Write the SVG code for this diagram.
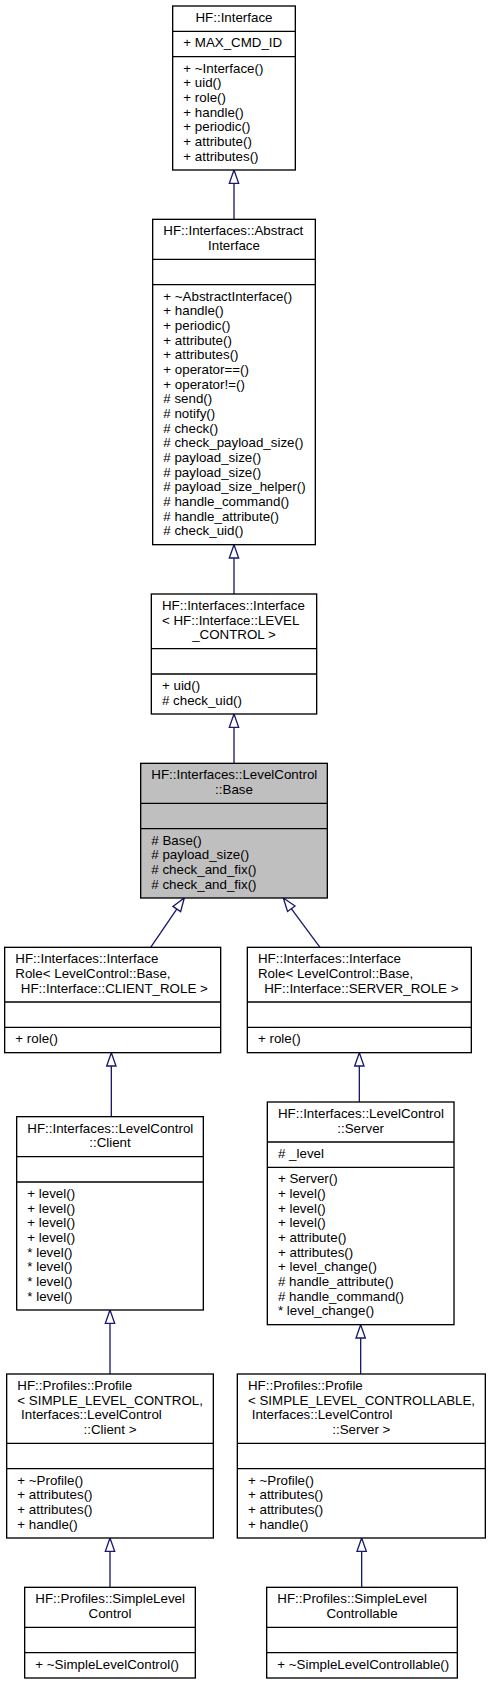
<svg xmlns="http://www.w3.org/2000/svg" width="491" height="1684" viewBox="0 0 491 1684">
<style>
.bg{fill:#ffffff}
.box{fill:#ffffff;stroke:#000000;stroke-width:1}
.cur{fill:#bfbfbf;stroke:#000000;stroke-width:1}
.sep{stroke:#000000;stroke-width:1}
text{font-family:"Liberation Sans",Arial,Helvetica,sans-serif;font-size:10px;fill:#000000}
.m{text-anchor:middle}
.e line{stroke:#191970;stroke-width:1}
.e polygon{fill:none;stroke:#191970;stroke-width:1}
</style>
<rect class="bg" x="0" y="0" width="491" height="1684"/>
<g transform="scale(1.33333)">
<g id="connectors" class="e">
<line x1="175.5" y1="137.5" x2="175.5" y2="164.5"/><polygon points="175.5,127.5 172,137.5 179,137.5"/>
<line x1="175.5" y1="418.5" x2="175.5" y2="445.5"/><polygon points="175.5,408.5 172,418.5 179,418.5"/>
<line x1="175.5" y1="545.5" x2="175.5" y2="572.5"/><polygon points="175.5,535.5 172,545.5 179,545.5"/>
<line x1="132.57" y1="681.76" x2="113" y2="710.5"/><polygon points="138.2,673.5 135.46,683.73 129.68,679.79"/>
<line x1="218.47" y1="681.53" x2="240" y2="710.5"/><polygon points="212.5,673.5 221.28,679.44 215.66,683.62"/>
<line x1="83.5" y1="799.5" x2="83.5" y2="837.5"/><polygon points="83.5,789.5 80,799.5 87,799.5"/>
<line x1="269.5" y1="799.5" x2="269.5" y2="826.5"/><polygon points="269.5,789.5 266,799.5 273,799.5"/>
<line x1="82.5" y1="992.5" x2="82.5" y2="1030.5"/><polygon points="82.5,982.5 79,992.5 86,992.5"/>
<line x1="270.5" y1="1003.5" x2="270.5" y2="1030.5"/><polygon points="270.5,993.5 267,1003.5 274,1003.5"/>
<line x1="82.5" y1="1163.5" x2="82.5" y2="1190.5"/><polygon points="82.5,1153.5 79,1163.5 86,1163.5"/>
<line x1="271.25" y1="1163.5" x2="271.25" y2="1190.5"/><polygon points="271.25,1153.5 267.75,1163.5 274.75,1163.5"/>
</g>

<g id="node1">
<rect class="box" x="129.5" y="4.5" width="92" height="123"/>
<line class="sep" x1="129.5" y1="23.5" x2="221.5" y2="23.5"/>
<line class="sep" x1="129.5" y1="42.5" x2="221.5" y2="42.5"/>
<text class="m" x="175.5" y="16.5">HF::Interface</text>
<text x="137.5" y="35.5">+ MAX_CMD_ID</text>
<text x="137.5" y="54.5">+ ~Interface()</text>
<text x="137.5" y="65.5">+ uid()</text>
<text x="137.5" y="76.5">+ role()</text>
<text x="137.5" y="87.5">+ handle()</text>
<text x="137.5" y="98.5">+ periodic()</text>
<text x="137.5" y="109.5">+ attribute()</text>
<text x="137.5" y="120.5">+ attributes()</text>
</g>

<g id="node2">
<rect class="box" x="114.5" y="164.5" width="122" height="244"/>
<line class="sep" x1="114.5" y1="194.5" x2="236.5" y2="194.5"/>
<line class="sep" x1="114.5" y1="213.5" x2="236.5" y2="213.5"/>
<text x="122.5" y="176.5">HF::Interfaces::Abstract</text>
<text class="m" x="175.5" y="187.5">Interface</text>
<text x="122.5" y="225.5">+ ~AbstractInterface()</text>
<text x="122.5" y="236.5">+ handle()</text>
<text x="122.5" y="247.5">+ periodic()</text>
<text x="122.5" y="258.5">+ attribute()</text>
<text x="122.5" y="269.5">+ attributes()</text>
<text x="122.5" y="280.5">+ operator==()</text>
<text x="122.5" y="291.5">+ operator!=()</text>
<text x="122.5" y="302.5"># send()</text>
<text x="122.5" y="313.5"># notify()</text>
<text x="122.5" y="324.5"># check()</text>
<text x="122.5" y="335.5"># check_payload_size()</text>
<text x="122.5" y="346.5"># payload_size()</text>
<text x="122.5" y="357.5"># payload_size()</text>
<text x="122.5" y="368.5"># payload_size_helper()</text>
<text x="122.5" y="379.5"># handle_command()</text>
<text x="122.5" y="390.5"># handle_attribute()</text>
<text x="122.5" y="401.5"># check_uid()</text>
</g>

<g id="node3">
<rect class="box" x="113.5" y="445.5" width="124" height="90"/>
<line class="sep" x1="113.5" y1="486.5" x2="237.5" y2="486.5"/>
<line class="sep" x1="113.5" y1="505.5" x2="237.5" y2="505.5"/>
<text x="121.5" y="457.5">HF::Interfaces::Interface</text>
<text x="121.5" y="468.5">&lt; HF::Interface::LEVEL</text>
<text class="m" x="175.5" y="479.5">_CONTROL &gt;</text>
<text x="121.5" y="517.5">+ uid()</text>
<text x="121.5" y="528.5"># check_uid()</text>
</g>

<g id="node4">
<rect class="cur" x="105.5" y="572.5" width="140" height="101"/>
<line class="sep" x1="105.5" y1="602.5" x2="245.5" y2="602.5"/>
<line class="sep" x1="105.5" y1="621.5" x2="245.5" y2="621.5"/>
<text x="113.5" y="584.5">HF::Interfaces::LevelControl</text>
<text class="m" x="175.5" y="595.5">::Base</text>
<text x="113.5" y="633.5"># Base()</text>
<text x="113.5" y="644.5"># payload_size()</text>
<text x="113.5" y="655.5"># check_and_fix()</text>
<text x="113.5" y="666.5"># check_and_fix()</text>
</g>

<g id="node5">
<rect class="box" x="3.5" y="710.5" width="162" height="79"/>
<line class="sep" x1="3.5" y1="751.5" x2="165.5" y2="751.5"/>
<line class="sep" x1="3.5" y1="770.5" x2="165.5" y2="770.5"/>
<text x="11.5" y="722.5">HF::Interfaces::Interface</text>
<text x="11.5" y="733.5">Role&lt; LevelControl::Base,</text>
<text class="m" x="85.7" y="744.5">HF::Interface::CLIENT_ROLE &gt;</text>
<text x="11.5" y="782.5">+ role()</text>
</g>

<g id="node6">
<rect class="box" x="185.5" y="710.5" width="168" height="79"/>
<line class="sep" x1="185.5" y1="751.5" x2="353.5" y2="751.5"/>
<line class="sep" x1="185.5" y1="770.5" x2="353.5" y2="770.5"/>
<text x="193.5" y="722.5">HF::Interfaces::Interface</text>
<text x="193.5" y="733.5">Role&lt; LevelControl::Base,</text>
<text class="m" x="271" y="744.5">HF::Interface::SERVER_ROLE &gt;</text>
<text x="193.5" y="782.5">+ role()</text>
</g>

<g id="node7">
<rect class="box" x="12.5" y="837.5" width="140" height="145"/>
<line class="sep" x1="12.5" y1="867.5" x2="152.5" y2="867.5"/>
<line class="sep" x1="12.5" y1="886.5" x2="152.5" y2="886.5"/>
<text x="20.5" y="849.5">HF::Interfaces::LevelControl</text>
<text class="m" x="82.5" y="860.5">::Client</text>
<text x="20.5" y="898.5">+ level()</text>
<text x="20.5" y="909.5">+ level()</text>
<text x="20.5" y="920.5">+ level()</text>
<text x="20.5" y="931.5">+ level()</text>
<text x="20.5" y="942.5">* level()</text>
<text x="20.5" y="953.5">* level()</text>
<text x="20.5" y="964.5">* level()</text>
<text x="20.5" y="975.5">* level()</text>
</g>

<g id="node8">
<rect class="box" x="200.5" y="826.5" width="140" height="167"/>
<line class="sep" x1="200.5" y1="856.5" x2="340.5" y2="856.5"/>
<line class="sep" x1="200.5" y1="875.5" x2="340.5" y2="875.5"/>
<text x="208.5" y="838.5">HF::Interfaces::LevelControl</text>
<text class="m" x="270.5" y="849.5">::Server</text>
<text x="208.5" y="868.5"># _level</text>
<text x="208.5" y="887.5">+ Server()</text>
<text x="208.5" y="898.5">+ level()</text>
<text x="208.5" y="909.5">+ level()</text>
<text x="208.5" y="920.5">+ level()</text>
<text x="208.5" y="931.5">+ attribute()</text>
<text x="208.5" y="942.5">+ attributes()</text>
<text x="208.5" y="953.5">+ level_change()</text>
<text x="208.5" y="964.5"># handle_attribute()</text>
<text x="208.5" y="975.5"># handle_command()</text>
<text x="208.5" y="986.5">* level_change()</text>
</g>

<g id="node9">
<rect class="box" x="5" y="1030.5" width="155" height="123"/>
<line class="sep" x1="5" y1="1082.5" x2="160" y2="1082.5"/>
<line class="sep" x1="5" y1="1101.5" x2="160" y2="1101.5"/>
<text x="13" y="1042.5">HF::Profiles::Profile</text>
<text x="13" y="1053.5">&lt; SIMPLE_LEVEL_CONTROL,</text>
<text x="15.8" y="1064.5">Interfaces::LevelControl</text>
<text class="m" x="82.5" y="1075.5">::Client &gt;</text>
<text x="13" y="1113.5">+ ~Profile()</text>
<text x="13" y="1124.5">+ attributes()</text>
<text x="13" y="1135.5">+ attributes()</text>
<text x="13" y="1146.5">+ handle()</text>
</g>

<g id="node10">
<rect class="box" x="178" y="1030.5" width="186" height="123"/>
<line class="sep" x1="178" y1="1082.5" x2="364" y2="1082.5"/>
<line class="sep" x1="178" y1="1101.5" x2="364" y2="1101.5"/>
<text x="186" y="1042.5">HF::Profiles::Profile</text>
<text x="186" y="1053.5">&lt; SIMPLE_LEVEL_CONTROLLABLE,</text>
<text x="188.8" y="1064.5">Interfaces::LevelControl</text>
<text class="m" x="271" y="1075.5">::Server &gt;</text>
<text x="186" y="1113.5">+ ~Profile()</text>
<text x="186" y="1124.5">+ attributes()</text>
<text x="186" y="1135.5">+ attributes()</text>
<text x="186" y="1146.5">+ handle()</text>
</g>

<g id="node11">
<rect class="box" x="18.5" y="1190.5" width="128" height="68"/>
<line class="sep" x1="18.5" y1="1220.5" x2="146.5" y2="1220.5"/>
<line class="sep" x1="18.5" y1="1239.5" x2="146.5" y2="1239.5"/>
<text x="26.5" y="1202.5">HF::Profiles::SimpleLevel</text>
<text class="m" x="82.5" y="1213.5">Control</text>
<text x="26.5" y="1251.5">+ ~SimpleLevelControl()</text>
</g>

<g id="node12">
<rect class="box" x="200" y="1190.5" width="143" height="68"/>
<line class="sep" x1="200" y1="1220.5" x2="343" y2="1220.5"/>
<line class="sep" x1="200" y1="1239.5" x2="343" y2="1239.5"/>
<text x="208" y="1202.5">HF::Profiles::SimpleLevel</text>
<text class="m" x="271.5" y="1213.5">Controllable</text>
<text x="208" y="1251.5">+ ~SimpleLevelControllable()</text>
</g>
</g>
</svg>
